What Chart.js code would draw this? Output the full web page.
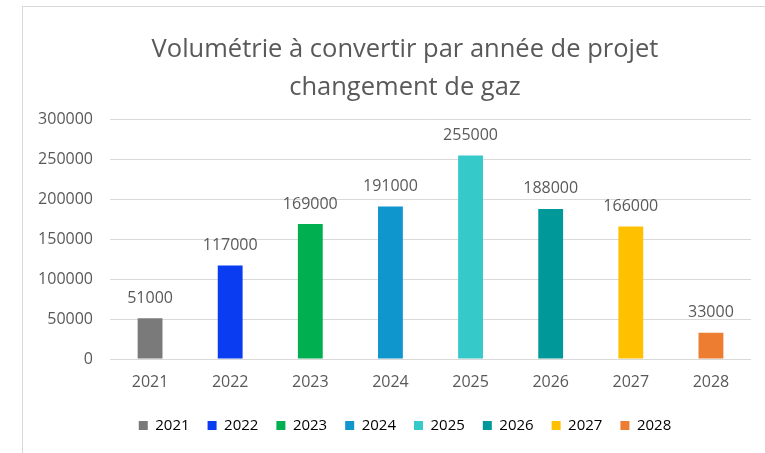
<!DOCTYPE html>
<html>
<head>
<meta charset="utf-8">
<script src="https://cdn.jsdelivr.net/npm/chart.js@4/dist/chart.umd.min.js"></script>
<style>
  html, body { margin: 0; padding: 0; background: #fff; overflow: hidden; }
  #frame {
    position: absolute; left: 22px; top: 6px; width: 800px; height: 500px;
    border-left: 1px solid #d9d9d9; border-top: 1px solid #d9d9d9;
  }
  #wrap { position: absolute; left: 0; top: 0; width: 765px; height: 453px; }
</style>
</head>
<body>
<div id="frame"></div>
<div id="wrap"><canvas id="gasChart" width="765" height="453"></canvas></div>
<script>
// Volumétrie par année de projet
const years = ["2021", "2022", "2023", "2024", "2025", "2026", "2027", "2028"];
const volumes = [51000, 117000, 169000, 191000, 255000, 188000, 166000, 33000];
const yearColors = ["#7a7a7a", "#0a3cf2", "#00b050", "#0f97cd", "#36c9ca", "#009899", "#ffc000", "#ed7d31"];
const titleLines = ["Volumétrie à convertir par année de projet", "changement de gaz"];

const textColor = "#595959";
const fontFamily = "'Open Sans', sans-serif";

// value labels above bars + y tick labels (drawn unclipped so the
// title and legend can stay centred like in the Excel original)
const extraText = {
  id: "extraText",
  afterDraw(chart) {
    const ctx = chart.ctx;
    const meta = chart.getDatasetMeta(0);
    const yScale = chart.scales.y;
    ctx.save();
    ctx.font = `16px ${fontFamily}`;
    ctx.fillStyle = textColor;
    ctx.textBaseline = "middle";

    ctx.textAlign = "center";
    meta.data.forEach((bar, i) => {
      ctx.fillText(String(volumes[i]), bar.x, bar.y - 20);
    });

    ctx.textAlign = "right";
    yScale.ticks.forEach((tick, i) => {
      ctx.fillText(String(tick.value), chart.chartArea.left - 17, yScale.getPixelForTick(i));
    });
    ctx.restore();
  },
};

new Chart(document.getElementById("gasChart"), {
  type: "bar",
  data: {
    labels: years,
    datasets: [
      {
        data: volumes,
        backgroundColor: yearColors,
        barPercentage: 0.31,
        categoryPercentage: 1,
      },
    ],
  },
  options: {
    responsive: false,
    animation: false,
    layout: { padding: { left: 59, right: 14, top: 31, bottom: 10 } },
    plugins: {
      tooltip: { enabled: false },
      title: {
        display: true,
        text: titleLines,
        color: textColor,
        font: { family: fontFamily, size: 25.5, weight: "normal", lineHeight: 1.49 },
        padding: { top: 0, bottom: 12.5 },
      },
      legend: {
        position: "bottom",
        labels: {
          boxWidth: 9,
          boxHeight: 9,
          padding: 18,
          color: textColor,
          font: { family: fontFamily, size: 15 },
          generateLabels: () =>
            years.map((y, i) => ({
              text: y,
              fillStyle: yearColors[i],
              strokeStyle: yearColors[i],
              lineWidth: 0,
              index: i,
            })),
        },
      },
    },
    scales: {
      x: {
        grid: { display: false },
        border: { display: false },
        ticks: { color: textColor, font: { family: fontFamily, size: 16 }, padding: 6 },
        afterFit: (scale) => { scale.height = 41; },
      },
      y: {
        min: 0,
        max: 300000,
        ticks: { stepSize: 50000, display: false },
        grid: { color: "#d9d9d9", drawTicks: false },
        border: { display: false },
        afterFit: (scale) => { scale.width = 51; },
      },
    },
  },
  plugins: [extraText],
});
</script>
</body>
</html>
